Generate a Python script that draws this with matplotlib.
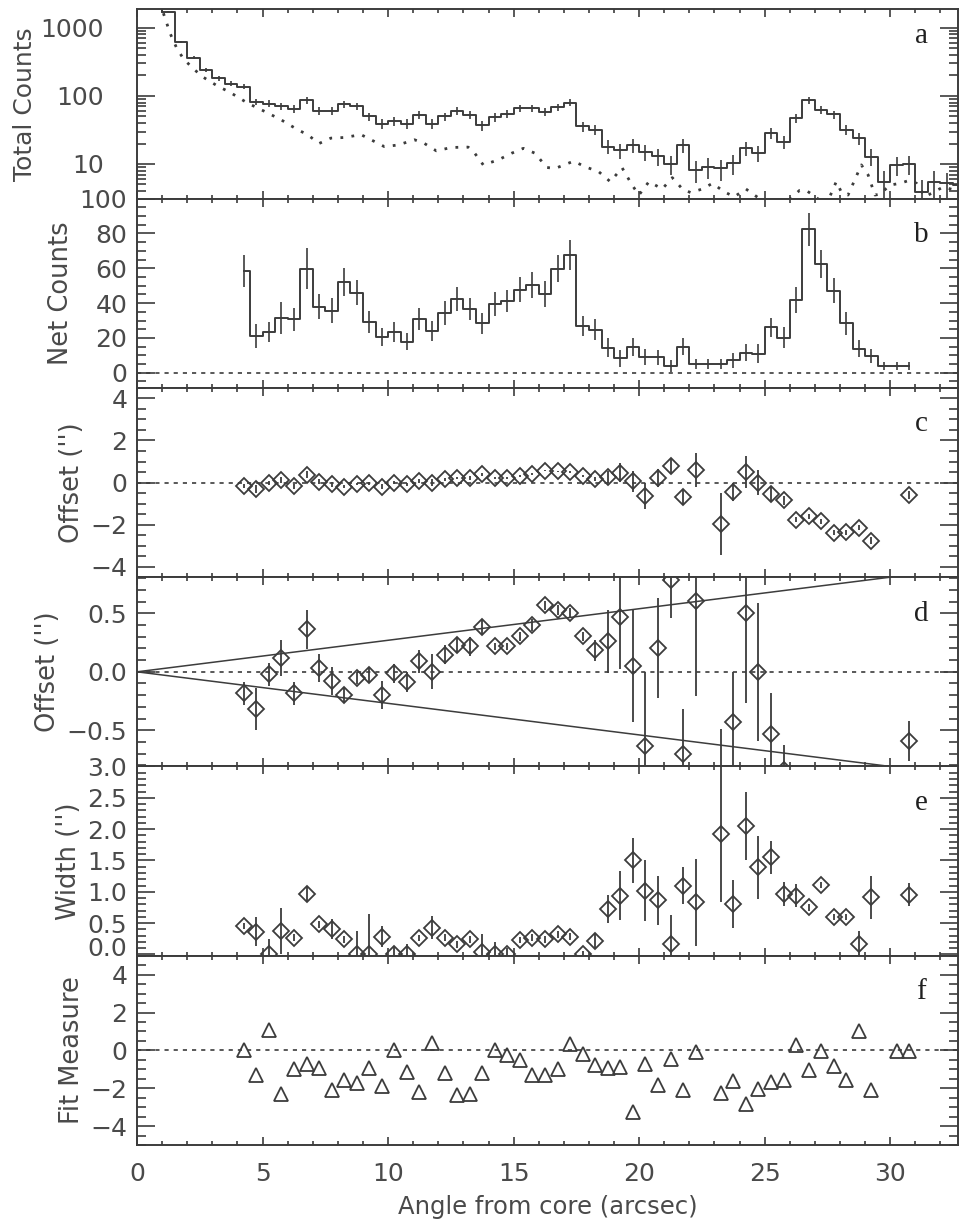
import numpy as np
import matplotlib.pyplot as plt
from matplotlib.ticker import MultipleLocator, FixedLocator, FixedFormatter, LogLocator, NullFormatter

# panel a: total counts (0.5" bins) and background
tot_x = np.arange(0.75, 33.0, 0.5)
tot_y = [4000, 1730, 620, 363, 241, 181, 152, 136, 82, 77, 71, 65, 86, 60, 60, 75,
         71, 50, 39, 43, 39, 53, 39, 50, 60, 53, 37, 49, 55, 66, 66, 58, 69, 80,
         36, 32, 18, 16, 19, 15, 13, 10, 19, 8.1, 9.1, 8.6, 10.2, 17, 14.4, 28.5,
         21.4, 47, 86, 63, 53.5, 32, 24, 12.8, 5.5, 9.7, 10, 3.9, 5.5, 5.2, 4.9]
tot_err = [63, 42, 25, 19, 15.5, 13.5, 12.3, 11.7, 9, 8.8, 8.4, 8, 9.3, 7.7, 7.7, 8.7,
           8.4, 7, 6.2, 6.6, 6.2, 7.3, 6.2, 7, 7.7, 7.3, 6, 7, 7.4, 8.1, 8.1, 7.6, 8.3, 8.9,
           6, 5.7, 4.2, 4, 4.4, 3.9, 3.6, 3.2, 4.4, 2.8, 3, 2.9, 3.2, 4.1, 3.8, 5.3,
           4.6, 6.8, 9.3, 7.9, 7.3, 5.7, 4.9, 3.6, 2.3, 3.1, 3.2, 2, 2.3, 2.3, 2.2]
bkg_x = [1.05, 1.32, 1.59, 1.85, 2.25, 2.65, 3.19, 3.72, 4.39, 5.05, 5.72, 6.39, 6.79,
         7.25, 7.72, 8.25, 8.92, 9.32, 9.85, 10.39, 11.05, 11.45, 11.92, 12.52, 13.19,
         13.45, 13.79, 14.39, 14.92, 15.39, 15.85, 16.32, 16.65, 17.39, 17.85, 18.39,
         18.85, 19.32, 19.72, 19.99, 20.39, 20.92, 21.32, 21.72, 22.05, 22.52, 22.92,
         23.39, 23.79, 24.25, 24.79, 25.45, 26.39, 26.65, 26.92, 27.45, 27.85, 28.05,
         28.32, 28.85, 29.12, 29.39, 29.59, 29.99, 30.39, 30.79, 31.05, 31.39, 31.85,
         32.12, 32.7]
bkg_y = [1640, 826, 494, 351, 249, 187, 141, 112, 79, 60, 45, 32, 27, 20, 24, 24.5, 27,
         22.7, 18, 19, 22.7, 20, 15.6, 17.5, 17.7, 14.4, 9.7, 11.5, 14.4, 17, 14.4, 8.9,
         8.6, 11, 9.1, 7.7, 5.5, 8.8, 4.9, 3.5, 5.5, 4.3, 6.3, 4.3, 3.8, 4.3, 5.2, 3.9,
         3.3, 4.3, 3.1, 2.0, 4.1, 4.1, 3.5, 2.5, 5.5, 3.9, 3.5, 9.7, 6.9, 3.5, 3.6, 4.9,
         5.2, 5.8, 5.2, 3.3, 4.1, 4.6, 4.0]

# panel b: net counts
net_x = np.arange(4.25, 31.0, 0.5)
net_y = [58.4, 21.2, 23.5, 31.4, 30.8, 59.7, 38, 35.7, 52, 45.9, 29.3, 20.6, 23.5, 17.9,
         30.8, 24.1, 34.3, 42.4, 36.6, 28.3, 39.5, 41.4, 47.8, 50.5, 45.3, 59.7, 67.8,
         27, 24.7, 14.5, 8.3, 15, 9, 9, 3.8, 15, 4.8, 4.8, 4.8, 7.3, 11.6, 11, 26, 20.2,
         41.8, 82.3, 62.6, 47.2, 28.3, 13.9, 9.6, 3.8, 3.8, 3.8]
net_err = [9.3, 6.9, 5.6, 9.1, 6.6, 11.8, 7, 7.4, 8, 7.2, 6.3, 5, 5.6, 4.8, 6.3, 5.6,
           6.7, 7, 6.5, 6.1, 6.7, 6.4, 7.2, 7.4, 7.4, 7.7, 8.7, 5.8, 6, 5.3, 4.8, 5.1,
           4.5, 4.3, 3.4, 4.8, 2.9, 2.9, 2.9, 4.3, 4.8, 5.3, 5.6, 5.8, 7.2, 9.4, 8, 7.1,
           6.6, 4.9, 4, 2.4, 2.4, 2.4]

# panels c, d: offset; panel e: width
fit_xa = np.arange(4.25, 22.5, 0.5)
fit_xb = np.arange(23.25, 29.5, 0.5)
off_x = np.concatenate([fit_xa, fit_xb, [30.75]])
off_y = [-0.185, -0.317, -0.021, 0.12, -0.185, 0.365, 0.03, -0.077, -0.2, -0.055, -0.03,
         -0.196, -0.013, -0.086, 0.09, 0.0, 0.148, 0.227, 0.218, 0.387, 0.218, 0.218,
         0.303, 0.40, 0.57, 0.528, 0.505, 0.303, 0.185, 0.26, 0.472, 0.05, -0.633, 0.204,
         0.79, -0.70, 0.607,
         -1.96, -0.43, 0.5, 0.0, -0.528, -0.84, -1.77, -1.61, -1.85, -2.39, -2.36, -2.15,
         -2.76, -0.59]
off_err = [0.096, 0.178, 0.10, 0.155, 0.10, 0.166, 0.12, 0.12, 0.06, 0.05, 0.07, 0.12,
           0.08, 0.085, 0.10, 0.15, 0.085, 0.06, 0.08, 0.06, 0.03, 0.03, 0.04, 0.05, 0.04,
           0.04, 0.04, 0.04, 0.09, 0.27, 0.45, 0.48, 0.63, 0.43, 0.33, 0.38, 0.81,
           1.47, 0.43, 0.77, 0.59, 0.35, 0.21, 0.12, 0.12, 0.12, 0.12, 0.12, 0.12, 0.15,
           0.17]
wid_y = [0.454, 0.36, 0.0, 0.375, 0.27, 0.966, 0.48, 0.40, 0.24, 0.0, 0.0, 0.285, 0.0,
         0.0, 0.26, 0.43, 0.27, 0.16, 0.24, 0.04, 0.0, 0.0, 0.23, 0.27, 0.24, 0.32, 0.285,
         0.0, 0.22, 0.73, 0.94, 1.50, 1.02, 0.865, 0.17, 1.10, 0.83,
         1.93, 0.81, 2.05, 1.39, 1.55, 0.97, 0.94, 0.75, 1.11, 0.60, 0.60, 0.17, 0.91,
         0.955]
wid_err = [0.05, 0.23, 0.24, 0.36, 0.05, 0.12, 0.05, 0.16, 0.05, 0.37, 0.64, 0.17, 0.14,
           0.16, 0.05, 0.18, 0.05, 0.05, 0.05, 0.28, 0.2, 0.1, 0.05, 0.05, 0.05, 0.05,
           0.05, 0.05, 0.13, 0.22, 0.39, 0.36, 0.49, 0.39, 0.46, 0.29, 0.69,
           1.09, 0.38, 0.54, 0.5, 0.26, 0.19, 0.18, 0.05, 0.05, 0.05, 0.05, 0.21, 0.34,
           0.18]

# panel f: fit measure
fm_x = np.concatenate([fit_xa, fit_xb, [30.25, 30.75]])
fm_y = [0.0, -1.31, 1.06, -2.30, -0.97, -0.71, -0.92, -2.07, -1.59, -1.72, -0.92, -1.89,
        0.0, -1.13, -2.19, 0.41, -1.22, -2.34, -2.30, -1.22, 0.0, -0.25, -0.51, -1.31,
        -1.31, -1.01, 0.32, -0.18, -0.78, -0.92, -0.88, -3.26, -0.74, -1.81, -0.48, -2.07,
        -0.09,
        -2.25, -1.63, -2.83, -2.02, -1.66, -1.54, 0.28, -1.06, -0.04, -0.80, -1.54, 1.03,
        -2.07, -0.04, -0.04]

# envelope in panel d
wedge_x = [0, 30]
wedge_y = [0, 0.81]

col = '#3c3c3c'
tcol = '#4a4a4a'
plt.rcParams['font.family'] = 'DejaVu Sans'
plt.rcParams['font.size'] = 18

fig, axs = plt.subplots(6, 1, sharex=True, figsize=(9.61, 12.30), dpi=100)
plt.subplots_adjust(left=0.1426, right=0.9969, top=0.9924, bottom=0.0691, hspace=0)

zdash = (0, (2.5, 3))

# a
ax = axs[0]
ax.plot(tot_x, tot_y, drawstyle='steps-mid', color=col, lw=1.4)
ax.errorbar(tot_x, tot_y, yerr=tot_err, fmt='none', ecolor=col, elinewidth=1.2)
ax.plot(bkg_x, bkg_y, color=col, lw=2, linestyle=(0, (1, 3)))
ax.set_yscale('log')
ax.set_ylim(3.1, 1870)
ax.yaxis.set_major_locator(FixedLocator([10, 100, 1000]))
ax.yaxis.set_major_formatter(FixedFormatter(['10', '100', '1000']))
ax.yaxis.set_minor_locator(LogLocator(base=10, subs=np.arange(2, 10)))
ax.yaxis.set_minor_formatter(NullFormatter())
ax.set_ylabel('Total Counts', fontsize=18)

# b
ax = axs[1]
ax.plot(net_x, net_y, drawstyle='steps-mid', color=col, lw=1.4)
ax.errorbar(net_x, net_y, yerr=net_err, fmt='none', ecolor=col, elinewidth=1.2)
ax.axhline(0, color=col, lw=1.2, linestyle=zdash)
ax.set_ylim(-8.7, 100)
ax.yaxis.set_major_locator(MultipleLocator(20))
ax.yaxis.set_minor_locator(MultipleLocator(5))
ax.set_ylabel('Net Counts', fontsize=18.5)

# c and d
for ax, lim, maj, mnr in [(axs[2], 4.5, 2, 0.5), (axs[3], 0.81, 0.5, 0.1)]:
    ax.errorbar(off_x, off_y, yerr=off_err, fmt='D', ms=8.5, mfc='none', mec=col,
                mew=1.3, ecolor=col, elinewidth=1.3)
    ax.axhline(0, color=col, lw=1.2, linestyle=zdash)
    ax.set_ylim(-lim, lim)
    ax.yaxis.set_major_locator(MultipleLocator(maj))
    ax.yaxis.set_minor_locator(MultipleLocator(mnr))
    ax.set_ylabel("Offset ('')", fontsize=18.5)
axs[3].plot(wedge_x, wedge_y, color=col, lw=1.1)
axs[3].plot(wedge_x, [-v for v in wedge_y], color=col, lw=1.1)
axs[3].yaxis.set_major_locator(FixedLocator([-0.5, 0.0, 0.5]))
axs[3].yaxis.set_major_formatter(FixedFormatter(['\u22120.5', '0.0', '0.5']))

# e
ax = axs[4]
ax.errorbar(off_x, wid_y, yerr=wid_err, fmt='D', ms=8.5, mfc='none', mec=col,
            mew=1.3, ecolor=col, elinewidth=1.3)
ax.set_ylim(-0.02, 3.0)
ax.yaxis.set_minor_locator(MultipleLocator(0.1))
ax.yaxis.set_major_locator(FixedLocator([0, 0.5, 1.0, 1.5, 2.0, 2.5, 3.0]))
ax.yaxis.set_major_formatter(FixedFormatter(['', '0.5', '1.0', '1.5', '2.0', '2.5', '3.0']))
# the 0.0 label sits a little above the panel edge, as in the original
ax.annotate('0.0', xy=(0, 0), xycoords=('axes fraction', 'data'), xytext=(-7, 4),
            textcoords='offset points', ha='right', va='center', color=tcol, fontsize=18)
ax.set_ylabel("Width ('')", fontsize=18.5)

# f
ax = axs[5]
ax.plot(fm_x, fm_y, linestyle='none', marker='^', ms=10, mfc='none', mec=col, mew=1.3)
ax.axhline(0, color=col, lw=1.2, linestyle=zdash)
ax.set_ylim(-5, 5)
ax.yaxis.set_major_locator(MultipleLocator(2))
ax.yaxis.set_minor_locator(MultipleLocator(0.5))
ax.set_ylabel('Fit Measure', fontsize=18.5)

ax.set_xlim(0, 32.7)
ax.xaxis.set_major_locator(MultipleLocator(5))
ax.xaxis.set_minor_locator(MultipleLocator(1))
ax.set_xlabel('Angle from core (arcsec)', color=tcol, labelpad=7, fontsize=17.5)

letters = ['a', 'b', 'c', 'd', 'e', 'f']
ly = [0.82, 0.77, 0.77, 0.77, 0.77, 0.77]
for ax, lt, yy in zip(axs, letters, ly):
    ax.text(0.955, yy, lt, transform=ax.transAxes, ha='center', va='baseline',
            fontsize=21, family='Liberation Serif', color='#202020')
    ax.tick_params(axis='both', which='both', direction='in', top=True, right=True,
                   colors=col, labelcolor=tcol, width=1.2)
    ax.tick_params(axis='y', which='major', length=13, pad=7)
    ax.tick_params(axis='y', which='minor', length=6.5)
    ax.tick_params(axis='x', which='major', length=6, pad=12)
    ax.tick_params(axis='x', which='minor', length=3)
    ax.yaxis.label.set_color(tcol)
    for s in ax.spines.values():
        s.set_color(col)
        s.set_linewidth(1.4)
axs[0].tick_params(axis='y', which='major', pad=24)
axs[0].yaxis.labelpad = 2

plt.savefig('out.png', dpi=100)
